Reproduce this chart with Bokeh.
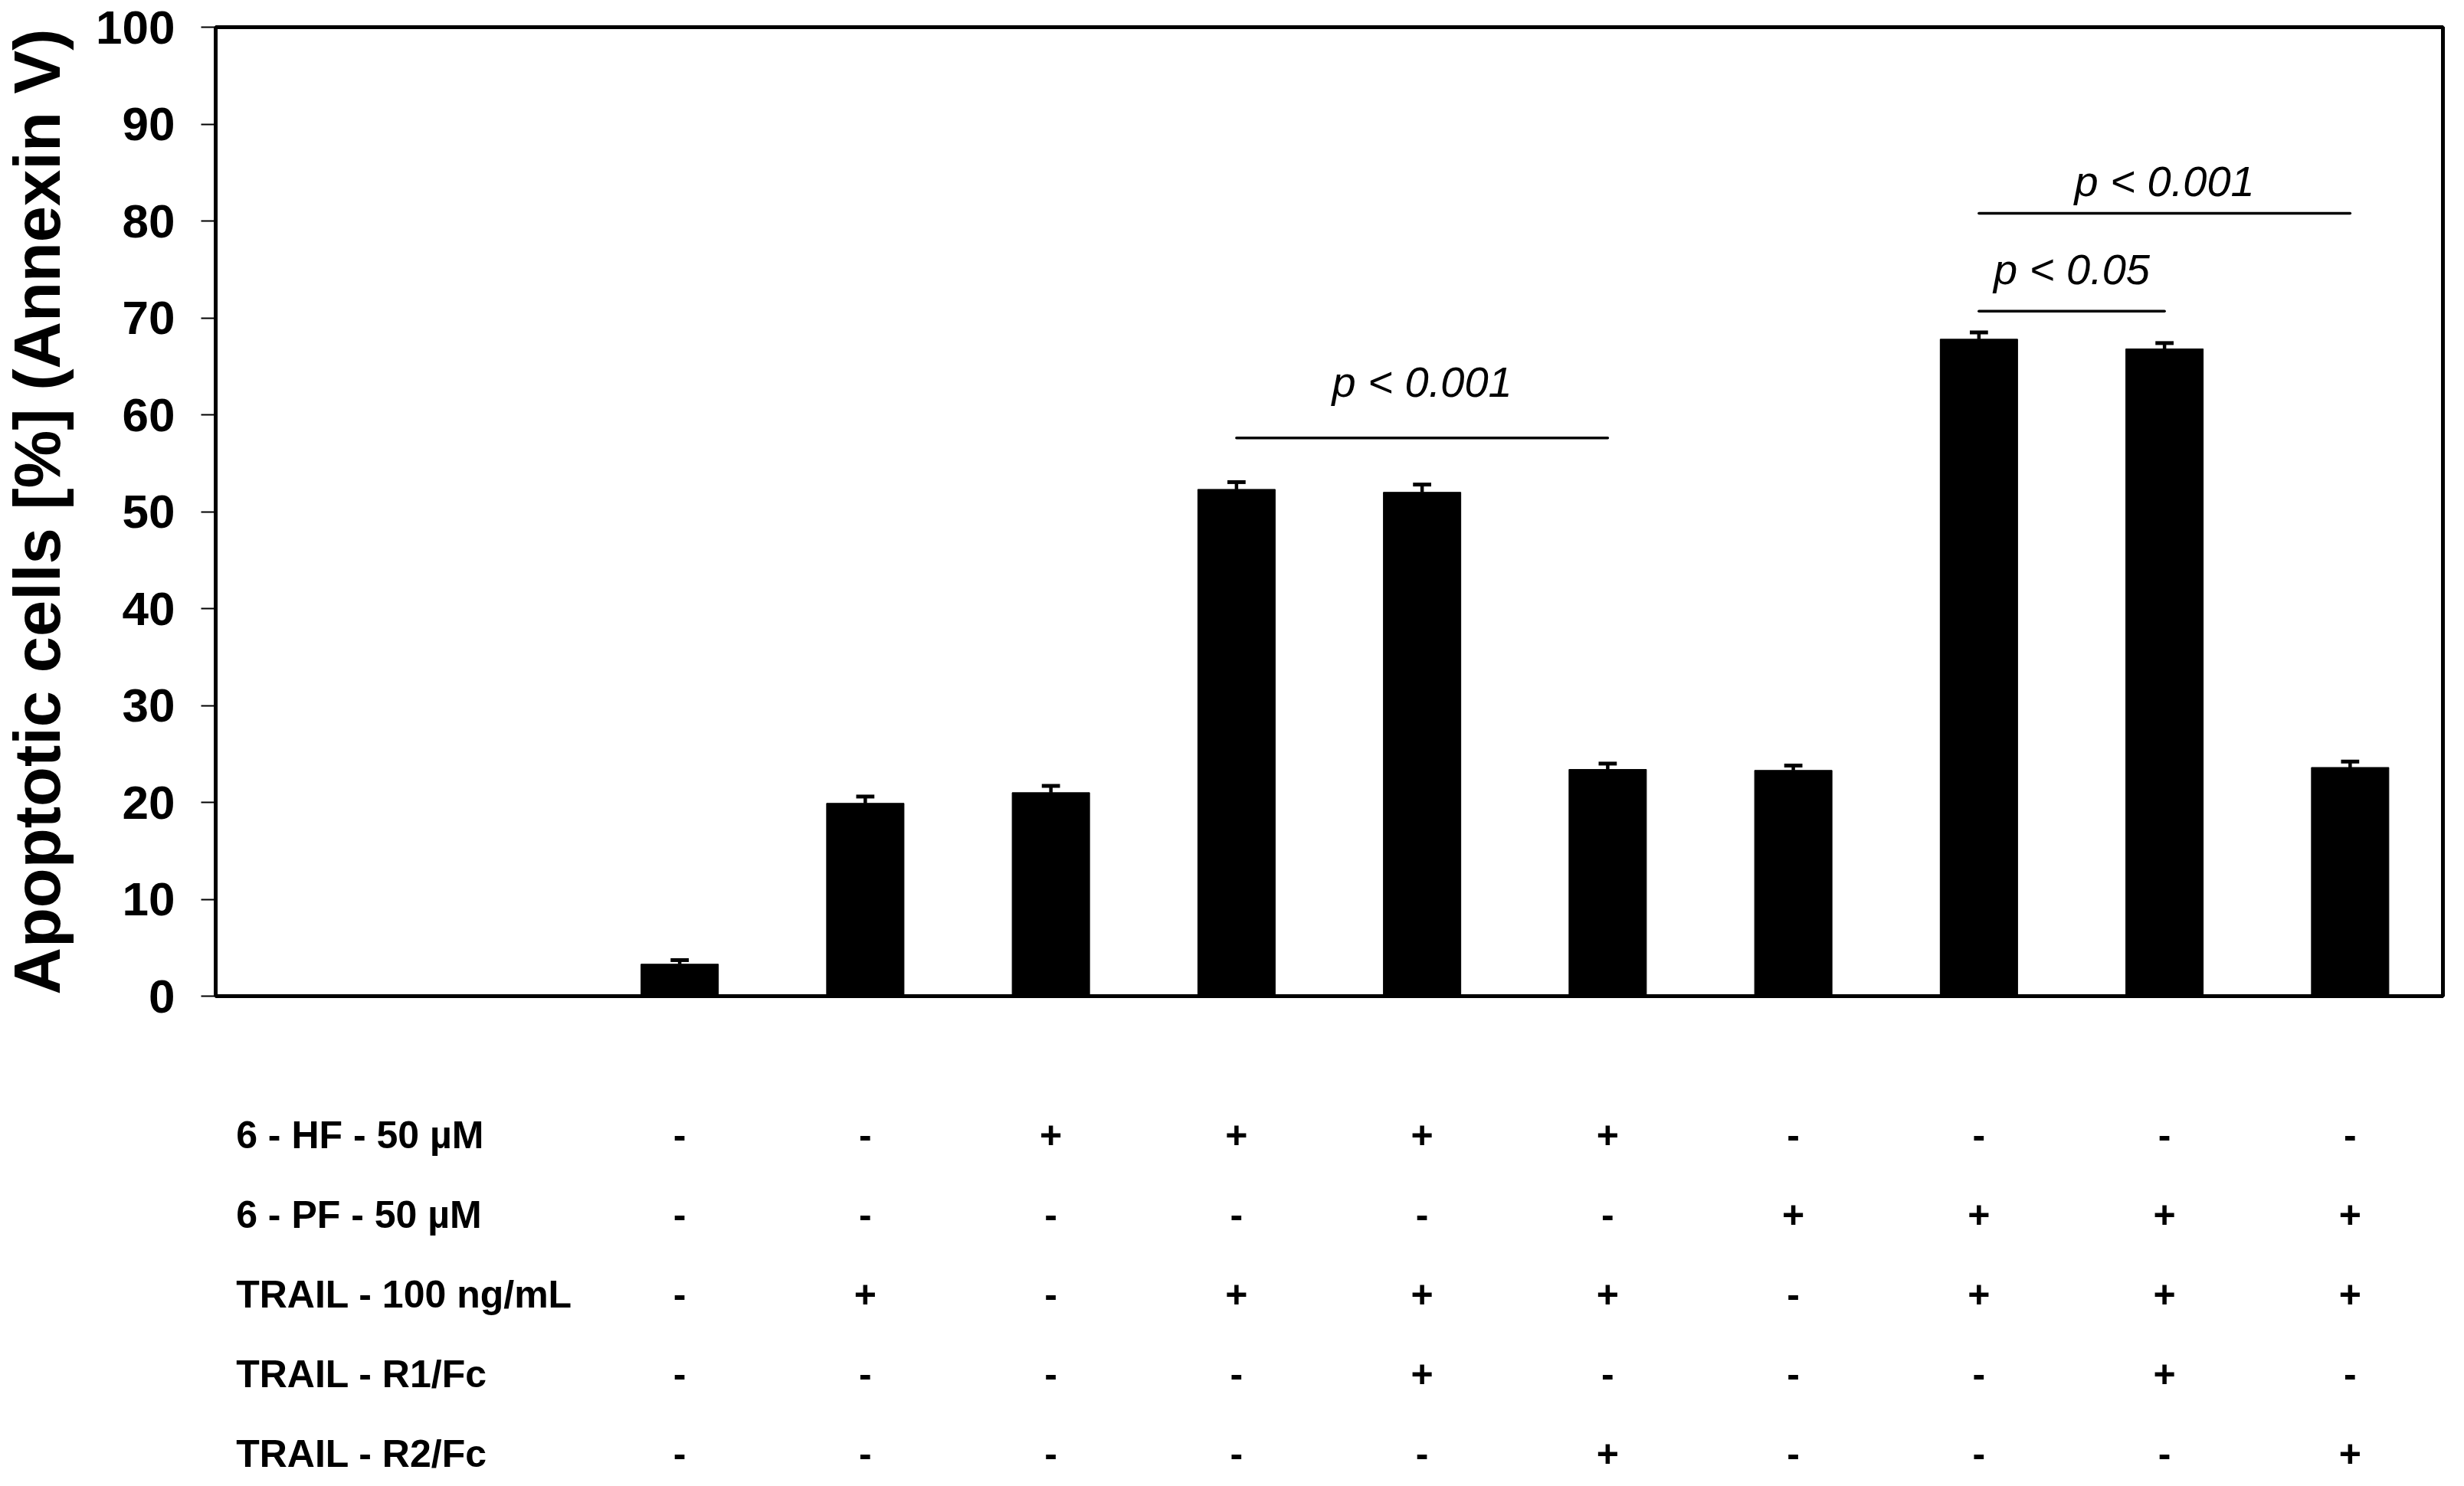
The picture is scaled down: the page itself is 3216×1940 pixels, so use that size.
import math
from bokeh.plotting import figure
from bokeh.models import Range1d, FixedTicker, ColumnDataSource
from bokeh.layouts import column, row
from bokeh.embed import file_html
from bokeh.resources import INLINE
from bokeh.core.properties import value

# ---------------- data ----------------
values = [3.3, 19.9, 21.0, 52.3, 52.0, 23.4, 23.3, 67.8, 66.8, 23.6]
errors = [0.42, 0.7, 0.7, 0.75, 0.8, 0.6, 0.5, 0.7, 0.6, 0.6]
y_ticks = [0, 10, 20, 30, 40, 50, 60, 70, 80, 90, 100]
y_title = "Apoptotic cells [%] (Annexin V)"

row_labels = ["6 - HF - 50 µM", "6 - PF - 50 µM", "TRAIL - 100 ng/mL",
              "TRAIL - R1/Fc", "TRAIL - R2/Fc"]
hf_6 = ["-", "-", "+", "+", "+", "+", "-", "-", "-", "-"]
pf_6 = ["-", "-", "-", "-", "-", "-", "+", "+", "+", "+"]
trail = ["-", "+", "-", "+", "+", "+", "-", "+", "+", "+"]
r1_fc = ["-", "-", "-", "-", "+", "-", "-", "-", "+", "-"]
r2_fc = ["-", "-", "-", "-", "-", "+", "-", "-", "-", "+"]

sig_from = [3, 7, 7]          # bar index where bracket starts
sig_to = [5, 8, 9]            # bar index where bracket ends
sig_level = [57.6, 70.7, 80.8]
sig_text_level = [63.4, 75.0, 84.1]
sig_text = ["p < 0.001", "p < 0.05", "p < 0.001"]

FONT = "Liberation Sans"
N_SLOTS = 12
OFFSET = 2  # first two category slots are empty (row-label column)

# ---------------- layout constants (pixels) ----------------
TITLE_W = 100
MAIN_W = 3108
MAIN_H = 1340
TABLE_H = 596
FRAME_TOP, FRAME_BOTTOM = 35, 1300
LEFT_B, RIGHT_B = 181, 20

# ---------------- main chart ----------------
xs = [i + OFFSET for i in range(len(values))]
tops = [v + e for v, e in zip(values, errors)]
src = ColumnDataSource(dict(x=xs, top=values, etop=tops,
                            cx0=[x - 0.049 for x in xs], cx1=[x + 0.049 for x in xs]))

p = figure(width=MAIN_W, height=MAIN_H,
           x_range=Range1d(-0.5, N_SLOTS - 0.5), y_range=Range1d(0, 100),
           output_backend="svg", toolbar_location=None,
           x_axis_location=None,
           min_border_left=LEFT_B, min_border_right=RIGHT_B,
           min_border_top=FRAME_TOP, min_border_bottom=MAIN_H - FRAME_BOTTOM)
p.grid.visible = False
p.outline_line_color = "black"
p.outline_line_width = 5
p.background_fill_color = "white"
p.border_fill_color = "white"

ax = p.yaxis[0]
ax.ticker = FixedTicker(ticks=y_ticks, minor_ticks=[])
ax.major_tick_out = 19
ax.major_tick_in = 0
ax.minor_tick_out = 0
ax.minor_tick_in = 0
ax.major_tick_line_width = 2
ax.major_tick_line_color = "black"
ax.axis_line_width = 5
ax.axis_line_color = "black"
ax.major_label_text_font = FONT
ax.major_label_text_font_style = "bold"
ax.major_label_text_font_size = "62px"
ax.major_label_text_color = "black"
ax.major_label_standoff = 34

p.vbar(x="x", top="top", bottom=0, width=0.417, source=src,
       fill_color="black", line_color="black")
p.segment(x0="x", x1="x", y0="top", y1="etop", source=src,
          line_color="black", line_width=4.5)
p.segment(x0="cx0", x1="cx1", y0="etop", y1="etop", source=src,
          line_color="black", line_width=5)

sig_src = ColumnDataSource(dict(
    x0=[a + OFFSET for a in sig_from], x1=[b + OFFSET for b in sig_to],
    y=sig_level, ty=sig_text_level, t=sig_text,
    xm=[(a + b) / 2 + OFFSET for a, b in zip(sig_from, sig_to)]))
p.segment(x0="x0", x1="x1", y0="y", y1="y", source=sig_src,
          line_color="black", line_width=3.5, line_cap="round")
p.text(x="xm", y="ty", text="t", source=sig_src,
       text_font=value(FONT), text_font_style="italic",
       text_font_size="56px", text_align="center",
       text_baseline="middle", text_color="black")

# ---------------- y-axis title (separate narrow panel) ----------------
TOTAL_H = MAIN_H + TABLE_H
t = figure(width=TITLE_W, height=TOTAL_H,
           x_range=Range1d(0, TITLE_W), y_range=Range1d(TOTAL_H, 0),
           output_backend="svg", toolbar_location=None,
           x_axis_location=None, y_axis_location=None,
           min_border_left=0, min_border_right=0,
           min_border_top=0, min_border_bottom=0)
t.grid.visible = False
t.outline_line_color = None
t.text(x=[48], y=[(FRAME_TOP + FRAME_BOTTOM) / 2], text=[y_title],
       angle=math.pi / 2, text_font=value(FONT), text_font_style="bold",
       text_font_size="85px", text_align="center",
       text_baseline="middle", text_color="black")

# ---------------- condition table ----------------
ROW0_PX, ROW_STEP = 1481, 104
q = figure(width=MAIN_W, height=TABLE_H,
           x_range=p.x_range,
           y_range=Range1d((TOTAL_H - ROW0_PX) / ROW_STEP, (MAIN_H - ROW0_PX) / ROW_STEP),
           output_backend="svg", toolbar_location=None,
           x_axis_location=None, y_axis_location=None,
           min_border_left=LEFT_B, min_border_right=RIGHT_B,
           min_border_top=0, min_border_bottom=0)
q.grid.visible = False
q.outline_line_color = None

rows = [hf_6, pf_6, trail, r1_fc, r2_fc]
sx, sy, st = [], [], []
for r, rw in enumerate(rows):
    for i, s in enumerate(rw):
        sx.append(i + OFFSET)
        sy.append(r)
        st.append(s)
q.text(x=sx, y=sy, text=st, text_font=value(FONT), text_font_style="bold",
       text_font_size="50px", text_align="center", text_baseline="middle",
       text_color="black")
q.text(x=[-0.39] * len(row_labels), y=list(range(len(row_labels))), text=row_labels,
       text_font=value(FONT), text_font_style="bold", text_font_size="50px",
       text_align="left", text_baseline="middle", text_color="black")

layout = row(t, column(p, q, spacing=0), spacing=0)
open("out.html", "w").write(file_html(layout, INLINE))
